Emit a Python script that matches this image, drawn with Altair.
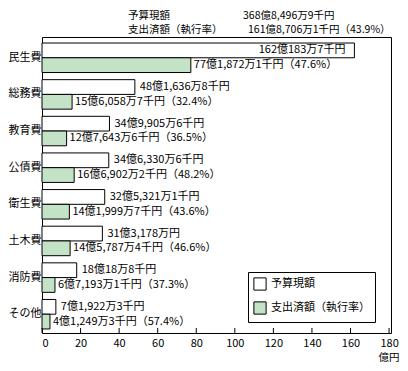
import altair as alt
import pandas as pd

categories = ["民生費", "総務費", "教育費", "公債費", "衛生費", "土木費", "消防費", "その他"]
budget = [162.01837, 48.16368, 34.99056, 34.63306, 32.53211, 31.3178, 18.00188, 7.19223]
spent = [77.18721, 15.60587, 12.76436, 16.69022, 14.19997, 14.57874, 6.71931, 4.12493]
budget_labels = ["162億183万7千円", "48億1,636万8千円", "34億9,905万6千円", "34億6,330万6千円",
                 "32億5,321万1千円", "31億3,178万円", "18億18万8千円", "7億1,922万3千円"]
spent_labels = ["77億1,872万1千円", "15億6,058万7千円", "12億7,643万6千円", "16億6,902万2千円",
                "14億1,999万7千円", "14億5,787万4千円", "6億7,193万1千円", "4億1,249万3千円"]
rates = [47.6, 32.4, 36.5, 48.2, 43.6, 46.6, 37.3, 57.4]
series = ["予算現額", "支出済額（執行率）"]
x_ticks = [0, 20, 40, 60, 80, 100, 120, 140, 160, 180]
total_budget = "368億8,496万9千円"
total_spent = "161億8,706万1千円"
total_rate = 43.9

rows = []
for i, c in enumerate(categories):
    rows.append({"category": c, "series": series[0], "value": budget[i], "label": budget_labels[i]})
    rows.append({"category": c, "series": series[1], "value": spent[i],
                 "label": f"{spent_labels[i]}（{rates[i]}%）"})
df = pd.DataFrame(rows)

W, H = 349, 296
FONT = "Noto Sans CJK JP"

x_enc = alt.X("value:Q", scale=alt.Scale(domain=[0, 181], nice=False),
              axis=alt.Axis(values=x_ticks, ticks=False, tickSize=0, domain=False, grid=False,
                            labelFontSize=11, labelPadding=4, labelColor="black",
                            title="億円", titleAlign="right", titleX=357, titleY=24,
                            titleBaseline="middle", titleFontWeight="normal", titleFontSize=10.5,
                            titleColor="black"))
y_enc = alt.Y("category:N", sort=categories,
              scale=alt.Scale(paddingInner=0, paddingOuter=0.04, align=0.84),
              axis=alt.Axis(title=None, ticks=False, tickSize=0, domain=False, labelAlign="left",
                            labelPadding=34, labelFontSize=11, labelColor="black"))
yoff_enc = alt.YOffset("series:N", sort=series,
                       scale=alt.Scale(domain=series, paddingInner=0, paddingOuter=0.242))

base = alt.Chart(df)

bars = base.mark_bar(stroke="black", strokeWidth=1).encode(
    x=x_enc, y=y_enc, yOffset=yoff_enc,
    fill=alt.Fill("series:N", sort=series,
                  scale=alt.Scale(domain=series, range=["white", "#c3e2c6"]),
                  legend=alt.Legend(title=None, orient="none", legendX=206, legendY=235,
                                    strokeColor="black", fillColor="white", padding=5,
                                    rowPadding=6, symbolType="square", symbolSize=150,
                                    symbolStrokeColor="black", symbolStrokeWidth=1,
                                    labelFontSize=11, labelOffset=4, labelColor="black",
                                    cornerRadius=0))
)

budget_txt = base.transform_filter(
    (alt.datum.series == series[0]) & (alt.datum.value < 150)
).mark_text(align="left", baseline="middle", dx=5, fontSize=11, color="black").encode(
    x=x_enc, y=y_enc, yOffset=yoff_enc, text="label:N")

budget_txt_in = base.transform_filter(
    (alt.datum.series == series[0]) & (alt.datum.value >= 150)
).mark_text(align="right", baseline="middle", dx=-9, fontSize=11, color="black").encode(
    x=x_enc, y=y_enc, yOffset=yoff_enc, text="label:N")

spent_txt = base.transform_filter(alt.datum.series == series[1]).mark_text(
    align="left", baseline="middle", dx=3, fontSize=11, color="black").encode(
    x=x_enc, y=y_enc, yOffset=yoff_enc, text="label:N")

ticks = alt.Chart(pd.DataFrame({"value": x_ticks})).mark_rule(color="black").encode(
    x=x_enc, y=alt.value(H), y2=alt.value(H - 5))

def txt(s, x, y):
    return alt.Chart(pd.DataFrame({"t": [s]})).mark_text(
        align="left", baseline="middle", fontSize=10.5, color="black").encode(
        x=alt.value(x), y=alt.value(y), text="t:N")

header = (txt("予算現額", 86, -21) + txt(total_budget, 201, -21)
          + txt("支出済額（執行率）", 86, -7) + txt(f"{total_spent}（{total_rate}%）", 206, -7))

chart = alt.layer(bars, budget_txt, budget_txt_in, spent_txt, ticks, header).properties(
    width=W, height=H,
    autosize=alt.AutoSizeParams(type="none"),
    padding={"left": 34, "top": 29, "right": 9, "bottom": 30},
).configure(font=FONT).configure_view(stroke="black", strokeWidth=1)

chart.save("out.html", embed_options={"renderer": "svg", "actions": False})
